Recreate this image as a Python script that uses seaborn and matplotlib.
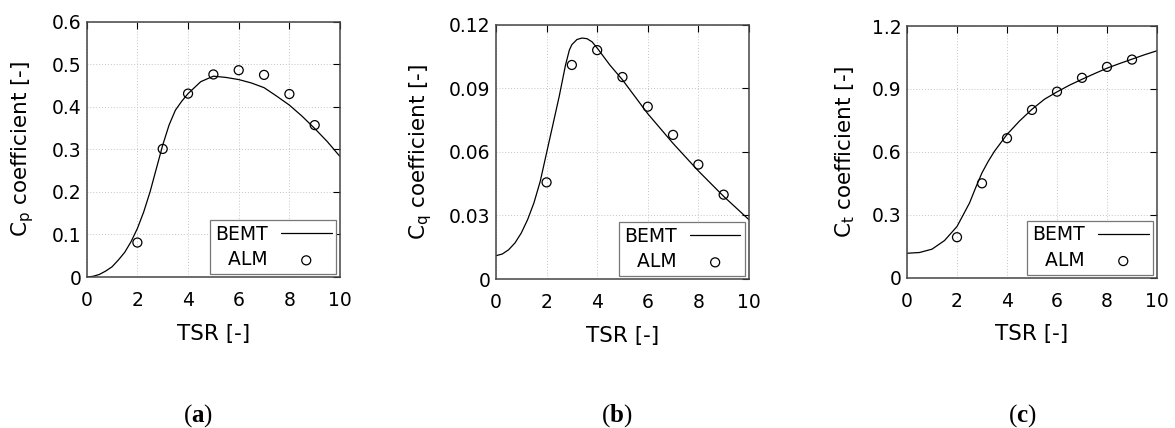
import matplotlib
matplotlib.use('Agg')
import matplotlib.pyplot as plt
import seaborn as sns

# BEMT curves
tsr_bemt_p = [0, 0.25, 0.5, 0.75, 1, 1.25, 1.5, 1.75, 2, 2.25, 2.5, 2.75, 3, 3.25,
              3.5, 3.75, 4, 4.5, 5, 5.5, 6, 6.5, 7, 7.5, 8, 8.5, 9, 9.5, 10]
cp_bemt = [0.0, 0.0016, 0.006, 0.014, 0.024, 0.040, 0.058, 0.083, 0.114, 0.153,
           0.200, 0.255, 0.310, 0.357, 0.392, 0.413, 0.431, 0.459, 0.472, 0.469,
           0.464, 0.456, 0.445, 0.425, 0.404, 0.378, 0.349, 0.318, 0.283]

tsr_bemt_q = [0, 0.25, 0.5, 0.75, 1, 1.25, 1.5, 1.75, 2, 2.25, 2.5, 2.75, 2.9, 3,
              3.2, 3.4, 3.6, 3.8, 4, 4.5, 5, 5.5, 6, 6.5, 7, 7.5, 8, 8.5, 9, 9.5, 10]
cq_bemt = [0.0110, 0.0118, 0.0138, 0.017, 0.0217, 0.028, 0.0359, 0.0461, 0.0595,
           0.0728, 0.0862, 0.101, 0.108, 0.1106, 0.113, 0.1137, 0.1134, 0.1119,
           0.109, 0.101, 0.094, 0.086, 0.078, 0.071, 0.064, 0.0575, 0.051, 0.045,
           0.039, 0.0335, 0.028]

tsr_bemt_t = [0, 0.5, 1, 1.5, 2, 2.25, 2.5, 2.75, 3, 3.25, 3.5, 4, 4.5, 5, 5.5,
              6, 6.5, 7, 7.5, 8, 8.5, 9, 9.5, 10]
ct_bemt = [0.1165, 0.12, 0.136, 0.177, 0.244, 0.30, 0.356, 0.43, 0.50, 0.555, 0.603,
           0.683, 0.747, 0.803, 0.851, 0.886, 0.918, 0.946, 0.973, 0.999, 1.021,
           1.042, 1.063, 1.082]

# ALM results
tsr_alm = [2, 3, 4, 5, 6, 7, 8, 9]
cp_alm = [0.081, 0.301, 0.431, 0.476, 0.486, 0.475, 0.430, 0.357]
cq_alm = [0.0456, 0.101, 0.108, 0.0953, 0.0813, 0.068, 0.054, 0.0398]
ct_alm = [0.193, 0.450, 0.665, 0.800, 0.887, 0.953, 1.005, 1.040]

x_ticks = [0, 2, 4, 6, 8, 10]

sns.set_theme(style='white')
plt.rcParams['font.family'] = ['DejaVu Sans']
plt.rcParams['mathtext.fontset'] = 'custom'
plt.rcParams['mathtext.rm'] = 'DejaVu Sans'
plt.rcParams['mathtext.bf'] = 'Liberation Serif:bold'
plt.rcParams['text.color'] = 'black'
plt.rcParams['axes.labelcolor'] = 'black'

fig = plt.figure(figsize=(11.75, 4.28), dpi=100)
ax_a = fig.add_axes([0.0738, 0.3528, 0.2156, 0.5965])
ax_b = fig.add_axes([0.4221, 0.3481, 0.2153, 0.5942])
ax_c = fig.add_axes([0.7719, 0.3512, 0.2128, 0.5880])


def draw_panel(ax, x_line, y_line, y_pts, ymax, yticks, ylabel, yfmt):
    sns.lineplot(x=x_line, y=y_line, ax=ax, color='black', linewidth=0.9,
                 label='BEMT', sort=False)
    # leading spaces: gnuplot right-aligns the key labels
    sns.scatterplot(x=tsr_alm, y=y_pts, ax=ax, marker='o', s=42,
                    facecolor='none', edgecolor='black', linewidth=0.9,
                    label='  ALM', zorder=3)
    ax.set_xlim(0, 10)
    ax.set_ylim(0, ymax)
    ax.set_xticks(x_ticks)
    ax.set_yticks(yticks)
    ax.set_yticklabels([yfmt(v) for v in yticks])
    ax.grid(True, color='#c4c4c4', linestyle=(0, (1, 2)), linewidth=0.7)
    ax.tick_params(direction='in', length=5, width=0.8, top=True, right=True,
                   labelsize=13.5, colors='black')
    ax.tick_params(axis='x', pad=10)
    ax.tick_params(axis='y', pad=4)
    for sp in ax.spines.values():
        sp.set_color('#444444')
        sp.set_linewidth(1.1)
    ax.set_xlabel('TSR [-]', fontsize=15.5, labelpad=10)
    ax.set_ylabel(ylabel, fontsize=15.5, labelpad=11)
    leg = ax.legend(loc='lower right', bbox_to_anchor=(0.985, 0.012),
                    borderaxespad=0, markerfirst=False, fontsize=13.5,
                    frameon=True, fancybox=False, framealpha=1,
                    edgecolor='#777777', handlelength=2.7, handletextpad=0.7,
                    labelspacing=0.35, borderpad=0.25, scatterpoints=1)
    leg.get_frame().set_linewidth(0.9)
    return leg


def fmt_plain(v):
    return '0' if v == 0 else f'{v:.1f}'


def fmt_q(v):
    return '0' if v == 0 else f'{v:.2f}'


draw_panel(ax_a, tsr_bemt_p, cp_bemt, cp_alm, 0.6,
           [0, 0.1, 0.2, 0.3, 0.4, 0.5, 0.6], 'C$_\\mathrm{p}$ coefficient [-]', fmt_plain)
draw_panel(ax_b, tsr_bemt_q, cq_bemt, cq_alm, 0.12,
           [0, 0.03, 0.06, 0.09, 0.12], 'C$_\\mathrm{q}$ coefficient [-]', fmt_q)
draw_panel(ax_c, tsr_bemt_t, ct_bemt, ct_alm, 1.2,
           [0, 0.3, 0.6, 0.9, 1.2], 'C$_\\mathrm{t}$ coefficient [-]', fmt_plain)

for xc, letter in [(198, 'a'), (617, 'b'), (1022, 'c')]:
    fig.text(xc / 1175, 1 - 416 / 428, '($\\mathbf{' + letter + '}$)',
             ha='center', va='center', fontsize=18, family='Liberation Serif')

fig.savefig('out.png', dpi=100)
